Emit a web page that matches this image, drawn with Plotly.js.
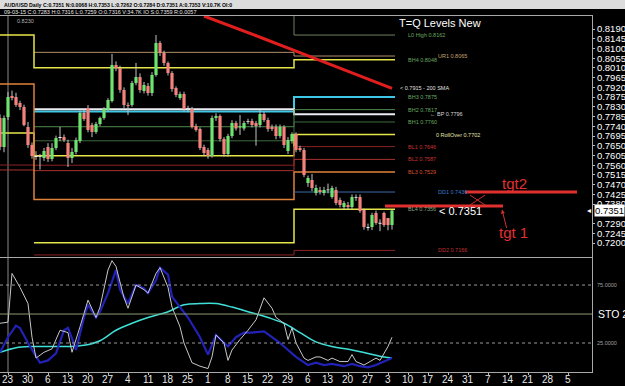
<!DOCTYPE html>
<html><head><meta charset="utf-8">
<script src="https://cdn.plot.ly/plotly-3.0.1.min.js"></script>
<style>html,body{margin:0;padding:0;background:#000;overflow:hidden}#chart{width:625px;height:386px}</style>
</head><body><div id="chart"></div>
<script>
// ---- DATA ----
// bar index 0 = Mon 23 Mar 2015 (one bar per weekday); first bar = index -2
const firstBar = -2;
const openP  = [0.7778,0.7644,0.7783,0.7880,0.7876,0.7848,0.7829,0.7737,0.7654,0.7603,0.7598,0.7593,0.7644,0.7589,0.7640,0.7686,0.7690,0.7663,0.7593,0.7621,0.7672,0.7802,0.7825,0.7746,0.7714,0.7751,0.7778,0.7815,0.7857,0.8023,0.8010,0.7908,0.7839,0.7839,0.7940,0.7968,0.7903,0.7926,0.7894,0.7977,0.8125,0.8079,0.8033,0.7987,0.7917,0.7871,0.7889,0.7820,0.7820,0.7741,0.7727,0.7644,0.7630,0.7603,0.7778,0.7788,0.7681,0.7612,0.7695,0.7755,0.7735,0.7730,0.7760,0.7765,0.7755,0.7746,0.7797,0.7769,0.7737,0.7737,0.7695,0.7737,0.7626,0.7672,0.7704,0.7640,0.7630,0.7478,0.7492,0.7432,0.7445,0.7432,0.7445,0.7413,0.7445,0.7399,0.7367,0.7376,0.7367,0.7410,0.7413,0.7353,0.7274,0.7274,0.7339,0.7293,0.7339,0.7316,0.7284];
const highP  = [0.7795,0.7790,0.7898,0.7905,0.7895,0.7858,0.7840,0.7760,0.7665,0.7625,0.7612,0.7640,0.7662,0.7662,0.7697,0.7737,0.7702,0.7678,0.7640,0.7688,0.7812,0.7818,0.7838,0.7756,0.7760,0.7785,0.7828,0.7870,0.8075,0.8040,0.8020,0.7920,0.7850,0.7950,0.8033,0.7985,0.7945,0.7940,0.7990,0.8162,0.8135,0.8090,0.8040,0.7995,0.7925,0.7900,0.7900,0.7835,0.7830,0.7752,0.7735,0.7655,0.7640,0.7790,0.7800,0.7795,0.7690,0.7705,0.7768,0.7765,0.7792,0.7765,0.7775,0.7775,0.7765,0.7815,0.7808,0.7780,0.7748,0.7748,0.7748,0.7745,0.7690,0.7712,0.7712,0.7650,0.7640,0.7512,0.7520,0.7470,0.7460,0.7460,0.7475,0.7465,0.7460,0.7410,0.7395,0.7390,0.7425,0.7425,0.7425,0.7360,0.7290,0.7340,0.7350,0.7310,0.7345,0.7316,0.7353];
const lowP   = [0.7630,0.7620,0.7770,0.7860,0.7830,0.7815,0.7740,0.7640,0.7590,0.7585,0.7540,0.7580,0.7575,0.7578,0.7630,0.7672,0.7668,0.7552,0.7570,0.7610,0.7662,0.7765,0.7712,0.7690,0.7705,0.7742,0.7770,0.7808,0.7850,0.7995,0.7895,0.7825,0.7792,0.7830,0.7930,0.7895,0.7892,0.7882,0.7880,0.7970,0.8065,0.8020,0.7975,0.7900,0.7875,0.7862,0.7810,0.7805,0.7730,0.7715,0.7630,0.7605,0.7590,0.7595,0.7765,0.7670,0.7600,0.7600,0.7685,0.7720,0.7700,0.7720,0.7750,0.7735,0.7650,0.7735,0.7760,0.7715,0.7718,0.7680,0.7685,0.7640,0.7612,0.7660,0.7620,0.7622,0.7505,0.7460,0.7440,0.7420,0.7425,0.7420,0.7430,0.7405,0.7375,0.7365,0.7355,0.7355,0.7358,0.7395,0.7340,0.7262,0.7258,0.7260,0.7285,0.7255,0.7275,0.7259,0.7262];
const closeP = [0.7644,0.7778,0.7876,0.7871,0.7839,0.7829,0.7746,0.7654,0.7603,0.7598,0.7601,0.7626,0.7589,0.7640,0.7686,0.7690,0.7677,0.7593,0.7621,0.7677,0.7802,0.7774,0.7723,0.7714,0.7751,0.7778,0.7820,0.7862,0.8023,0.8010,0.7908,0.7839,0.7834,0.7940,0.7968,0.7908,0.7931,0.7894,0.7977,0.8125,0.8079,0.8033,0.7987,0.7912,0.7885,0.7889,0.7820,0.7822,0.7737,0.7723,0.7640,0.7617,0.7603,0.7778,0.7788,0.7681,0.7612,0.7695,0.7755,0.7730,0.7740,0.7755,0.7765,0.7746,0.7741,0.7797,0.7769,0.7727,0.7727,0.7695,0.7737,0.7654,0.7677,0.7704,0.7630,0.7630,0.7515,0.7501,0.7455,0.7455,0.7436,0.7445,0.7447,0.7455,0.7385,0.7376,0.7385,0.7367,0.7413,0.7413,0.7348,0.7274,0.7270,0.7330,0.7293,0.7290,0.7283,0.7283,0.7351];

// 200 SMA read points (bar index, price)
const smaIdx = [49, 56, 64, 72, 80, 88, 96];
const smaVal = [0.8250, 0.8202, 0.8145, 0.8088, 0.8030, 0.7973, 0.7915];

// Quarterly level lines: boundaries (bar index) and values per quarter [Q1, Q2, Q3]
const quarterEdges = [-2.5, 6.5, 71.5, 96.75];
const levelNames  = ["L0 High","UR1","BH4","Q1 R","BH3","BP","BH2","BH1","RollOver","BL1","BL2","L2b","BL3","G","DD1","BL4","DD2","Q1 S","Q1 B"];
const levelQ1 = [null,  null,  0.8162,0.8088,null,  null,  null,  null,  0.7709,0.7561,0.7538,null,  0.7936,null,  null,  null,  null,  0.7864,0.7339];
const levelQ2 = [0.8295,0.8082,0.8011,null,  0.7808,0.7819,0.7738,0.7673,0.7604,0.7560,0.7535,0.7468,0.7402,0.7350,null,  0.7202,0.7145,null,  null];
const levelQ3 = [0.8162,0.8065,0.8048,null,  0.7875,0.7796,0.7817,0.7760,0.7702,0.7646,0.7587,null,  0.7529,null,  0.7436,0.7356,0.7166,null,  null];

// Stochastic (bar index, value)
const kIdx = [-2,0,1,3,5,6,7,9,11,13,15,16,18,20,22,23,25,26,27,29,30,32,34,35,37,38,40,41,43,44,46,48,50,51,52,54,55,56,58,60,62,64,66,67,69,70,71,72,74,75,77,78,80,81,83,85,86,87,89,90,92,93,94,95,96];
const kVal = [42,43,85,73,59,30,12,17,20,36,34,17,39,62,47,56,88,96,91,64,55,75,71,68,85,90,73,56,39,25,8,5,3,13,32,25,10,19,28,36,45,64,55,47,42,28,38,25,12,10,13,13,10,12,9,9,15,9,6,8,12,10,16,22,30];
const dIdx = [-2,0,2,3,5,7,8,10,12,14,15,16,17,19,20,22,23,25,27,28,30,32,34,35,37,38,40,41,43,45,48,50,52,54,55,57,59,61,64,66,68,70,72,75,77,79,81,84,86,88,90,92,94,96];
const dVal = [17,30,40,38,25,13,8,10,16,36,38,29,19,47,58,47,52,68,88,71,59,75,72,68,79,90,84,65,56,47,30,15,32,25,22,30,34,34,35,30,25,19,13,6,8,6,7,5,7,5,4,6,9,12];
const sIdx = [-2,2,6,10,15,19,23,27,31,35,40,44,48,52,56,60,65,69,73,77,81,86,90,94,96];
const sVal = [17,21,22,22,22,23,27,36,42,47,52,58,59,59,56,52,47,42,34,26,22,19,16,13,12];

// Axis labels
const dayLabels = ["23","30","6","13","20","27","4","11","18","25","1","8","15","22","29","6","13","20","27","3","10","17","24","31","7","14","21","28","5"];
const monthLabels = ["Apr","May","Jun","Jul","Aug","Sep","Oct"];
const monthIdx = [9, 30, 51, 75, 96, 119, 139];
const priceTicks = [0.8190,0.8145,0.8100,0.8055,0.8010,0.7965,0.7920,0.7875,0.7830,0.7785,0.7740,0.7695,0.7650,0.7605,0.7560,0.7515,0.7470,0.7425,0.7380,0.7290,0.7245,0.7200];

// Targets drawn on chart
const lastClose = 0.7351;
const tgtNames = ["tgt 1","tgt2"];
const tgtPrice = [0.7371, 0.7436];
const tgtFrom = [94.25, 114.25];
const tgtTo = [123.75, 142.25];

// ---- BUILD ----
const n = openP.length;
const xs = [];
for (let k = 0; k < n; k++) xs.push(firstBar + k);

const W = 625, H = 386, L = 0, R = 33, T = 16, B = 14;
const pw = W - L - R, ph = H - T - B;
const px = p => (p - L) / pw;
const py = p => (H - B - p) / ph;

const traces = [];
const levelColors = ["#6f8060","#b08f6a","#e6e64a","#c03030","#3cc8e6","#ececf4","#4e8a4e","#3c6a3c","#e6e64a","#8b2222","#a83232","#7a2020","#e0823a","#6e7468","#3a6aa8","#e6e64a","#8b2222","#40507a","#b8b8f0"];
const levelWidths = [1,1,1.5,1,2,2,1,1,1.5,1,1,1,1.5,2.5,1,1.5,1,1,2];
for (let j = 0; j < levelNames.length; j++) {
  const q = [levelQ1[j], levelQ2[j], levelQ3[j]];
  traces.push({type:'scatter', mode:'lines', x: quarterEdges, y:[q[0], q[1], q[2], q[2]],
    line:{color: levelColors[j], width: levelWidths[j], shape:'hv'}, hoverinfo:'skip', xaxis:'x', yaxis:'y'});
}
traces.push({type:'scatter', mode:'lines', x: smaIdx, y: smaVal, line:{color:'#e01e1e', width:3}, xaxis:'x', yaxis:'y', hoverinfo:'skip'});

// wicks
const wx = [], wy = [];
for (let k = 0; k < n; k++) { wx.push(xs[k], xs[k], null); wy.push(lowP[k], highP[k], null); }
traces.push({type:'scatter', mode:'lines', x: wx, y: wy, line:{color:'#c4c4c4', width:1}, xaxis:'x', yaxis:'y', hoverinfo:'skip'});

// candle bodies drawn as thick vertical segments from open to close
const groups = {up:{x:[],y:[],c:'#6fe36f'}, dn:{x:[],y:[],c:'#f4837c'}, dj:{x:[],y:[],c:'#f0f0f0'}};
for (let k = 0; k < n; k++) {
  const d = closeP[k] - openP[k];
  const g = Math.abs(d) <= 0.0005 ? groups.dj : (d > 0 ? groups.up : groups.dn);
  const a = g === groups.dj ? (openP[k] + closeP[k]) / 2 - 0.0002 : openP[k];
  const b = g === groups.dj ? (openP[k] + closeP[k]) / 2 + 0.0002 : closeP[k];
  g.x.push(xs[k], xs[k], null); g.y.push(a, b, null);
}
for (const key of ['up','dn','dj']) {
  const g = groups[key];
  traces.push({type:'scatter', mode:'lines', x:g.x, y:g.y, line:{color:g.c, width:3.2}, xaxis:'x', yaxis:'y', hoverinfo:'skip'});
}

// stochastic
traces.push({type:'scatter', mode:'lines', x: sIdx, y: sVal, line:{color:'#3fe0d8', width:1.5, shape:'spline'}, xaxis:'x2', yaxis:'y2', hoverinfo:'skip'});
traces.push({type:'scatter', mode:'lines', x: dIdx, y: dVal, line:{color:'#2222b8', width:2.2}, xaxis:'x2', yaxis:'y2', hoverinfo:'skip'});
traces.push({type:'scatter', mode:'lines', x: kIdx, y: kVal, line:{color:'#c8c8c8', width:1}, xaxis:'x2', yaxis:'y2', hoverinfo:'skip'});

const shapes = [
  {type:'rect', xref:'paper', yref:'paper', x0:px(0), x1:px(625), y0:py(9), y1:py(0), fillcolor:'#dcdcdc', line:{width:0}, layer:'below'},
  {type:'line', xref:'paper', yref:'y2', x0:0, x1:1, y0:75, y1:75, line:{color:'#9a9a9a', width:1, dash:'dot'}},
  {type:'line', xref:'paper', yref:'y2', x0:0, x1:1, y0:25, y1:25, line:{color:'#9a9a9a', width:1, dash:'dot'}},
  {type:'line', xref:'paper', yref:'y2', x0:0, x1:1, y0:50, y1:50, line:{color:'#8c9a78', width:1}},
  {type:'line', xref:'x', yref:'paper', x0:0, x1:0, y0:0, y1:1, line:{color:'#8a8a8a', width:1}, layer:'below'},
];
for (let t = 0; t < tgtPrice.length; t++) {
  shapes.push({type:'line', xref:'x', yref:'y', x0:tgtFrom[t], x1:tgtTo[t], y0:tgtPrice[t], y1:tgtPrice[t], line:{color:'#e03030', width:3}});
}
shapes.push({type:'line', xref:'x', yref:'y', x0:115.5, x1:119.25, y0:0.7376, y1:0.7422, line:{color:'#d03030', width:1}});
shapes.push({type:'line', xref:'x', yref:'y', x0:115.5, x1:119.25, y0:0.7422, y1:0.7376, line:{color:'#d03030', width:1}});

const fnt = 'Liberation Sans, Arial, sans-serif';
const ann = [];
function txt(x, y, text, color, size, xref, yref, extra) {
  ann.push(Object.assign({x:x, y:y, xref:xref||'paper', yref:yref||'paper', text:text, showarrow:false,
    xanchor:'left', yanchor:'middle', font:{family:fnt, size:size, color:color}}, extra||{}));
}
txt(px(2), py(4.5), '<b>AUD/USD Daily C:0.7351 N:0.0068 H:0.7353 L:0.7262 O:0.7284 D:0.7351 A:0.7353 V:10.7K OI:0</b>', '#000', 5.2);
txt(px(2), py(12.5), '09-03-15 C:0.7283 H:0.7316 L:0.7259 O:0.7316 V:34.7K IO S:0.7359 R:0.0057', '#e8e8e8', 5.5);
txt(px(15), py(21), '0.8230', '#b0b0b0', 5.5);
txt(97.25, py(23), 'T=Q Levels New', '#ffffff', 11, 'x', 'paper');
txt(99.5, 0.8162, 'L0 High 0.8162', '#6aa860', 5.5, 'x', 'y');
txt(107, 0.8065, 'UR1 0.8065', '#c8a070', 5.5, 'x', 'y');
txt(99.5, 0.8048, 'BH4 0.8048', '#6aa860', 5.5, 'x', 'y');
txt(97.5, smaVal[smaVal.length-1], '&lt; 0.7915 - 200 SMA', '#e0e0e0', 5.5, 'x', 'y');
txt(99.5, 0.7875, 'BH3 0.7875', '#6aa860', 5.5, 'x', 'y');
txt(99.5, 0.7817, 'BH2 0.7817', '#6aa860', 5.5, 'x', 'y');
txt(105, 0.7796, '← BP 0.7796', '#d8d8d8', 5.5, 'x', 'y');
txt(99.5, 0.7760, 'BH1 0.7760', '#6aa860', 5.5, 'x', 'y');
txt(106.5, 0.7702, '0 RollOver 0.7702', '#e6e6b0', 5.5, 'x', 'y');
txt(99.5, 0.7646, 'BL1 0.7646', '#c83232', 5.5, 'x', 'y');
txt(99.5, 0.7587, 'BL2 0.7587', '#c83232', 5.5, 'x', 'y');
txt(99.5, 0.7529, 'BL3 0.7529', '#d8502a', 5.5, 'x', 'y');
txt(107, 0.7436, 'DD1 0.7436', '#3a7ac8', 5.5, 'x', 'y');
txt(99.5, 0.7356, 'BL4 0.7356', '#80a880', 5.5, 'x', 'y');
txt(107, 0.7166, 'DD2 0.7166', '#c03030', 5.5, 'x', 'y');
txt(107.25, 0.7348, '&lt; ' + lastClose.toFixed(4), '#ffffff', 11, 'x', 'y');
txt(123, 0.7477, tgtNames[1], '#e03030', 15, 'x', 'y');
txt(122.25, 0.7251, tgtNames[0], '#e03030', 15, 'x', 'y');
ann.push({x:123.5, y:0.7355, xref:'x', yref:'y', ax:5, ay:20, showarrow:true, arrowhead:2, arrowsize:0.8, arrowwidth:1, arrowcolor:'#d03030', text:''});
txt(px(594), 0.7349, lastClose.toFixed(4), '#000000', 9.5, 'paper', 'y', {bgcolor:'#ffffff', borderpad:0});
txt(px(585), 0.7349, '◂', '#ffffff', 8, 'paper', 'y');
txt(px(595), 75, '75.0000', '#a0a0a0', 5.5, 'paper', 'y2');
txt(px(595), 25, '25.0000', '#a0a0a0', 5.5, 'paper', 'y2');
txt(px(596), 50, 'STO 20', '#ffffff', 10.5, 'paper', 'y2');
for (let k = 0; k < dayLabels.length; k++) {
  ann.push({x: k * 5, y: py(379.5), xref:'x2', yref:'paper', text: dayLabels[k], showarrow:false,
    xanchor:'center', yanchor:'middle', font:{family:fnt, size:10, color:'#e8e8e8'}});
}
for (let m = 0; m < monthLabels.length; m++) {
  ann.push({x: monthIdx[m], y: py(383.5), xref:'x2', yref:'paper', text: monthLabels[m], showarrow:false,
    xanchor:'center', yanchor:'top', font:{family:fnt, size:9, color:'#d0d0d0'}});
}

const tickIdx = dayLabels.map((d, k) => k * 5);

const layout = {
  width: W, height: H, margin:{l:L, r:R, t:T, b:B, pad:0},
  paper_bgcolor:'#000', plot_bgcolor:'#000', showlegend:false,
  font:{family:fnt, color:'#e0e0e0'},
  xaxis:{domain:[0,1], anchor:'y', range:[-2, 146], showgrid:false, zeroline:false, showticklabels:false,
    showline:true, linecolor:'#a8a8a8', linewidth:1, mirror:true, ticks:'', fixedrange:true},
  yaxis:{domain:[0.3244, 1], range:[0.71378, 0.82501], side:'right', showgrid:false, zeroline:false,
    tickvals: priceTicks, ticktext: priceTicks.map(v => v.toFixed(4)), ticks:'outside', ticklen:2, tickcolor:'#bbbbbb',
    tickfont:{family:fnt, size:9.5, color:'#ffffff'}, showline:true, linecolor:'#a8a8a8', linewidth:1},
  xaxis2:{domain:[0,1], anchor:'y2', matches:'x', range:[-2, 146], showgrid:false, zeroline:false,
    tickvals: tickIdx, showticklabels:false, ticks:'outside', ticklen:2, tickcolor:'#bbbbbb',
    showline:true, linecolor:'#a8a8a8', linewidth:1},
  yaxis2:{domain:[0, 0.3244], range:[0, 99.6], side:'right', showgrid:false, zeroline:false, showticklabels:false,
    ticks:'', showline:true, linecolor:'#a8a8a8', linewidth:1},
  shapes: shapes, annotations: ann
};

Plotly.newPlot('chart', traces, layout, {displayModeBar:false, staticPlot:true});
</script>
</body></html>
